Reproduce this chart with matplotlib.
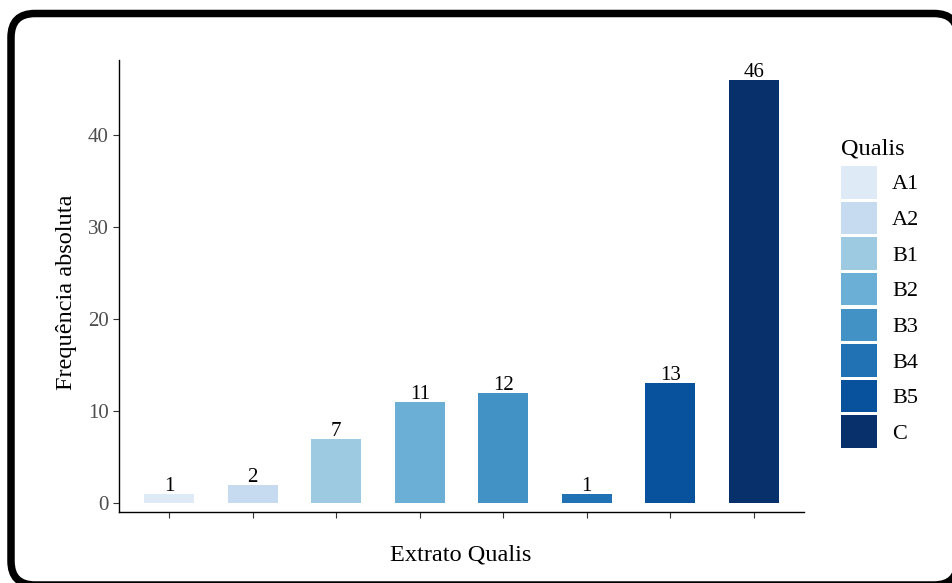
import matplotlib
matplotlib.use("Agg")
import matplotlib.pyplot as plt
from matplotlib.patches import FancyBboxPatch, Patch

# data
qualis = ['A1', 'A2', 'B1', 'B2', 'B3', 'B4', 'B5', 'C']
freq = [1, 2, 7, 11, 12, 1, 13, 46]
cores = ['#DEEBF7', '#C6DBEF', '#9ECAE1', '#6BAED6', '#4292C6', '#2171B5', '#08519C', '#08306B']

plt.rcParams['font.family'] = ['Liberation Serif', 'DejaVu Serif']

W, H = 953, 583
fig = plt.figure(figsize=(W/100, H/100), dpi=100)
ax = fig.add_axes([119/W, 1-512/H, (804-119)/W, (512-60)/H])

x = list(range(1, len(qualis)+1))
ax.bar(x, freq, width=0.6, color=cores)
for xi, v in zip(x, freq):
    ax.annotate(str(v), (xi, v), xytext=(0, 2.2), textcoords='offset points',
                ha='center', va='baseline', fontsize=15, color='black')

ax.set_xlim(0.4, 8.6)
ax.set_ylim(-0.98, 48.15)
ax.set_xticks(x)
ax.set_xticklabels([''] * len(x))
ax.set_yticks([0, 10, 20, 30, 40])
ax.tick_params(axis='both', length=4.5, width=0.8, color='#333333', pad=3,
               labelsize=15, labelcolor='#4D4D4D')
for s in ['top', 'right']:
    ax.spines[s].set_visible(False)
for s in ['left', 'bottom']:
    ax.spines[s].set_linewidth(1.0)

# axis titles
fig.text(67/W, 1-292/H, 'Frequência absoluta', rotation=90, ha='center', va='center', fontsize=17.5)
fig.text(461/W, 1-561/H, 'Extrato Qualis', ha='center', va='baseline', fontsize=17.5)

# legend
fs = 16
em = fs * 100 / 72
handles = [Patch(facecolor=c, edgecolor='none', label=q) for q, c in zip(qualis, cores)]
leg = fig.legend(handles=handles, title='Qualis', loc='upper left',
                 bbox_to_anchor=(841/W, 1-138/H), frameon=False, borderpad=0,
                 fontsize=fs, title_fontsize=17.5, handlelength=36/em, handleheight=1.875,
                 handletextpad=15/em, labelspacing=3.1/em, borderaxespad=0)
leg._legend_box.align = 'left'
leg._legend_box.sep = 7.0 * 72 / 100

# rounded border around the figure (filled white, drawn behind the axes)
borda = FancyBboxPatch((11/W, -2/H), (958-11)/W, (H-13.5+2)/H,
                       boxstyle='round,pad=0,rounding_size=%f' % (24/W),
                       transform=fig.transFigure, facecolor='white', edgecolor='black',
                       linewidth=5.4, mutation_aspect=W/H, zorder=-1)
fig.patches.append(borda)

fig.savefig('out.png', dpi=100)
